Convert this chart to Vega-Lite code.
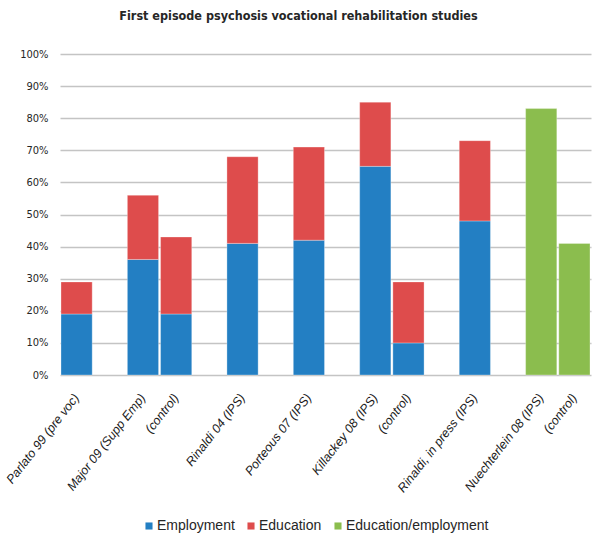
{
  "$schema": "https://vega.github.io/schema/vega-lite/v6.json",
  "width": 531,
  "height": 321,
  "autosize": {"type": "none"},
  "padding": {"left": 60, "top": 54, "right": 5, "bottom": 167},
  "background": "white",
  "title": {
    "text": "First episode psychosis vocational rehabilitation studies",
    "font": "DejaVu Sans Condensed, Liberation Sans, sans-serif",
    "fontSize": 12.5,
    "fontWeight": "bold",
    "color": "#262626",
    "anchor": "middle",
    "offset": 26,
    "dx": -27
  },
  "data": {
    "values": [
      {"study": "Parlato 99 (pre voc)", "type": "Employment", "value": 19},
      {"study": "Parlato 99 (pre voc)", "type": "Education", "value": 10},
      {"study": "Major 09 (Supp Emp)", "type": "Employment", "value": 36},
      {"study": "Major 09 (Supp Emp)", "type": "Education", "value": 20},
      {"study": "(control)#1", "type": "Employment", "value": 19},
      {"study": "(control)#1", "type": "Education", "value": 24},
      {"study": "Rinaldi 04 (IPS)", "type": "Employment", "value": 41},
      {"study": "Rinaldi 04 (IPS)", "type": "Education", "value": 27},
      {"study": "Porteous 07 (IPS)", "type": "Employment", "value": 42},
      {"study": "Porteous 07 (IPS)", "type": "Education", "value": 29},
      {"study": "Killackey 08 (IPS)", "type": "Employment", "value": 65},
      {"study": "Killackey 08 (IPS)", "type": "Education", "value": 20},
      {"study": "(control)#2", "type": "Employment", "value": 10},
      {"study": "(control)#2", "type": "Education", "value": 19},
      {"study": "Rinaldi, in press (IPS)", "type": "Employment", "value": 48},
      {"study": "Rinaldi, in press (IPS)", "type": "Education", "value": 25},
      {"study": "Nuechterlein 08 (IPS)", "type": "Education/employment", "value": 83},
      {"study": "(control)#3", "type": "Education/employment", "value": 41}
    ]
  },
  "mark": {"type": "bar", "stroke": "white", "strokeWidth": 0.5, "strokeOpacity": 0.6},
  "encoding": {
    "x": {
      "field": "study",
      "type": "nominal",
      "scale": {
        "domain": ["Parlato 99 (pre voc)", "gap1", "Major 09 (Supp Emp)", "(control)#1", "gap2", "Rinaldi 04 (IPS)", "gap3", "Porteous 07 (IPS)", "gap4", "Killackey 08 (IPS)", "(control)#2", "gap5", "Rinaldi, in press (IPS)", "gap6", "Nuechterlein 08 (IPS)", "(control)#3"],
        "paddingInner": 0.06,
        "paddingOuter": 0.03
      },
      "axis": {
        "title": null,
        "domain": false,
        "ticks": false,
        "labelAngle": -52,
        "labelAlign": "right",
        "labelBaseline": "middle",
        "labelPadding": 20,
        "labelFont": "Liberation Sans",
        "labelFontStyle": "italic",
        "labelFontSize": 12.5,
        "labelColor": "#1a1a1a",
        "labelExpr": "indexof(datum.value, 'gap') === 0 ? '' : split(datum.value, '#')[0]"
      }
    },
    "y": {
      "field": "value",
      "type": "quantitative",
      "stack": "zero",
      "scale": {"domain": [0, 100], "nice": false},
      "axis": {
        "title": null,
        "domain": false,
        "ticks": false,
        "values": [0, 10, 20, 30, 40, 50, 60, 70, 80, 90, 100],
        "labelExpr": "datum.value + '%'",
        "labelPadding": 12,
        "labelFont": "DejaVu Sans Condensed, Liberation Sans, sans-serif",
        "labelFontSize": 11,
        "labelColor": "#262626",
        "gridColor": "#c4c4c4",
        "gridWidth": 1.5
      }
    },
    "color": {
      "field": "type",
      "type": "nominal",
      "scale": {
        "domain": ["Employment", "Education", "Education/employment"],
        "range": ["#237fc3", "#de4c4c", "#8bbd4e"]
      },
      "legend": {
        "title": null,
        "orient": "none",
        "direction": "horizontal",
        "legendX": 82,
        "legendY": 465,
        "symbolType": "square",
        "symbolSize": 50,
        "symbolStrokeWidth": 0,
        "labelFont": "Liberation Sans",
        "labelFontSize": 14,
        "labelColor": "#262626",
        "labelOffset": 1,
        "columnPadding": 9
      }
    },
    "order": {"field": "type", "sort": "descending"}
  },
  "config": {"view": {"stroke": null}}
}
